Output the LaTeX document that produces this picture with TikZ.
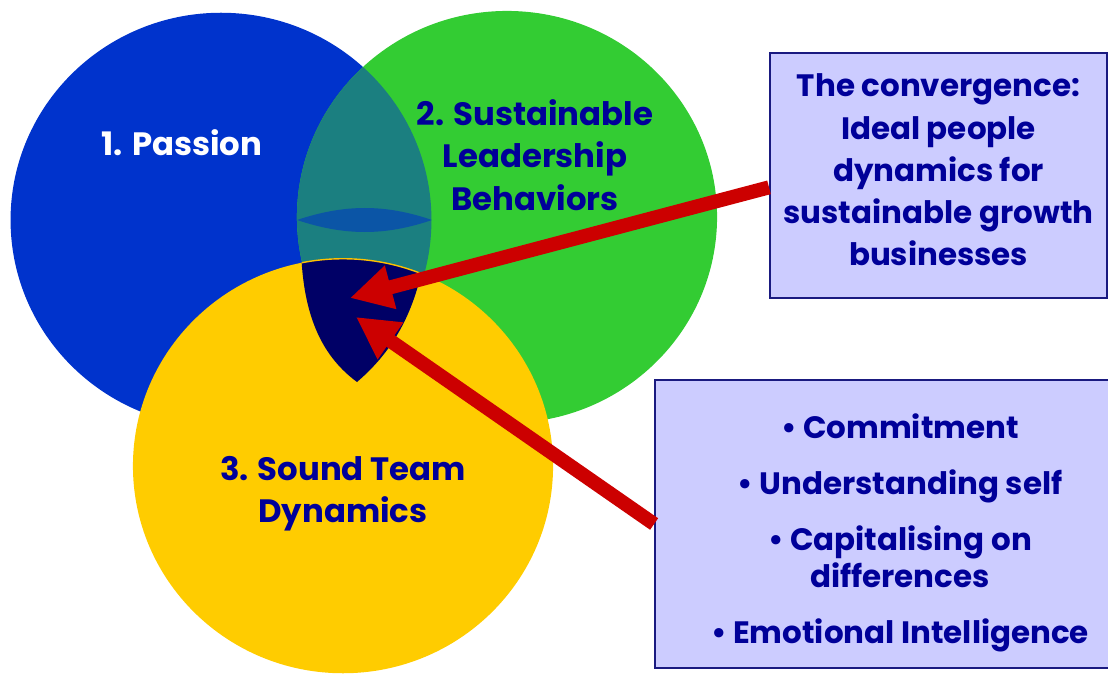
\documentclass[tikz,border=0pt]{standalone}
\usepackage{fontspec}
\setmainfont{Poppins}
\usetikzlibrary{arrows.meta}

\definecolor{passion}{HTML}{0033CC}
\definecolor{leader}{HTML}{33CC33}
\definecolor{team}{HTML}{FFCC00}
\definecolor{lens}{HTML}{1B7F80}
\definecolor{band}{HTML}{0B55A6}
\definecolor{core}{HTML}{000066}
\definecolor{arrowred}{HTML}{CC0000}
\definecolor{boxfill}{HTML}{CCCCFF}
\definecolor{boxline}{HTML}{1A1A80}
\definecolor{ink}{HTML}{000099}

\begin{document}
\begin{tikzpicture}[x=0.025cm,y=-0.025cm,
    lbl/.style={align=center,text=ink,font=\fontsize{23}{30}\selectfont\bfseries},
    boxtxt/.style={lbl,font=\fontsize{22}{30}\selectfont\bfseries},
    infobox/.style={draw=boxline,line width=1.2pt,fill=boxfill,inner sep=0pt},
    bigarrow/.style={arrowred,line width=10pt,-{Triangle[length=1.05cm,width=1.05cm]}}]
  \useasboundingbox (0,0) rectangle (1108,675);
  % the three circles and their overlaps
  \def\blueC{(221,220) ellipse[x radius=5.26cm,y radius=5.18cm]}
  \def\greenC{(507,217) ellipse[x radius=5.25cm,y radius=5.15cm]}
  \def\yellowC{(343,466) ellipse[x radius=5.25cm,y radius=5.18cm]}
  \fill[passion] \blueC;
  \fill[leader] \greenC;
  \begin{scope}
    \clip \blueC;
    \fill[lens] \greenC;
    \fill[band] (297,220) .. controls (345,204) and (385,204) .. (432,220)
      .. controls (385,236) and (345,236) .. cycle;
  \end{scope}
  \fill[team] \yellowC;
  % centre piece where all three meet
  \begin{scope}
    \clip (297,200) -- (302,267) .. controls (307,330) and (330,362) .. (357,382)
      .. controls (385,358) and (410,325) .. (422,270) -- (432,200) -- cycle;
    \fill[core] \yellowC;
    \draw[team!85!orange,line width=1pt] \yellowC;
  \end{scope}
  % circle labels
  \node[lbl,text=white] (pas) at (182,143) {1. Passion};
  \node[lbl] (sus) at (535,155) {2. Sustainable\\Leadership\\Behaviors};
  \node[lbl] (snd) at (343,494) {3. Sound Team\\Dynamics};
  % boxes
  \node[infobox,minimum width=8.43cm,minimum height=6.13cm] (conv) at (938.5,175.5) {};
  \node[boxtxt] (convtxt) at (938.5,170)
    {The convergence:\\Ideal people\\dynamics for\\sustainable growth\\businesses};
  \node[infobox,minimum width=12.25cm,minimum height=7.2cm] (bul) at (900,524) {};
  \node[boxtxt] (bultxt) at (900,533)
    {\textbullet\ Commitment\\[0.35cm]
     \textbullet\ Understanding self\\[0.35cm]
     \textbullet\ Capitalising on\\[-0.13cm]
     differences\\[0.35cm]
     \textbullet\ Emotional Intelligence};
  % arrows into the centre
  \coordinate (tipA) at (350,298);
  \coordinate (tipB) at (356,317);
  \draw[bigarrow] (conv.184) -- (tipA);
  \draw[bigarrow] (bul.west) -- (tipB);
\end{tikzpicture}
\end{document}
